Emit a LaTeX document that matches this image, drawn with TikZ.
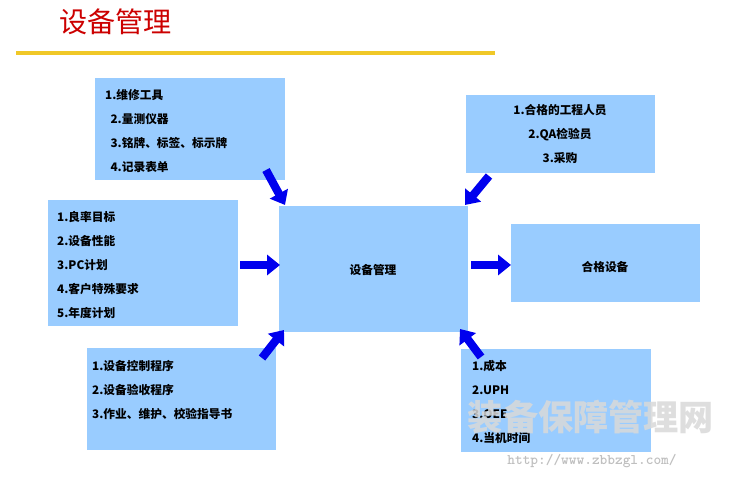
\documentclass[tikz,border=0pt]{standalone}
\usepackage{fontspec}
\setmainfont{Liberation Sans}
\newfontfamily\cjk{Noto Sans CJK SC}
\usetikzlibrary{arrows.meta}
\begin{document}
\begin{tikzpicture}[x=0.03cm,y=-0.03cm,
  txt/.style={font=\cjk\bfseries\fontsize{10}{20.3}\selectfont,align=left,anchor=west,inner sep=0pt},
  barrow/.style={draw=arrowblue,line width=7pt,-{Triangle[width=17pt,length=11pt]}}]
\definecolor{boxblue}{RGB}{153,204,255}
\definecolor{arrowblue}{RGB}{0,0,238}
\useasboundingbox (0,0) rectangle (743,482);
\fill[white] (0,0) rectangle (743,482);
\node[anchor=west,text=red!80!black,font=\cjk\fontsize{24}{28}\selectfont] (title) at (55,22) {设备管理};
\draw[draw={rgb,255:red,240;green,200;blue,40},line width=3pt] (16,53) -- (495,53);
% boxes
\fill[boxblue] (95,78) rectangle (285,180);
\fill[boxblue] (466,95) rectangle (655,173);
\fill[boxblue] (48,200) rectangle (238,326);
\fill[boxblue] (279,206) rectangle (468,332);
\fill[boxblue] (511,224) rectangle (700,302);
\fill[boxblue] (87,348) rectangle (276,450);
\fill[boxblue] (461,349) rectangle (651,452);
\node[txt] (ta) at (105,131) {1.维修工具\\\ \ 2.量测仪器\\\ \ 3.铭牌、标签、标示牌\\\ \ 4.记录表单};
\node[txt,align=center,anchor=center] (tb) at (560,134) {1.合格的工程人员\\2.QA检验员\\3.采购};
\node[txt] (tc) at (57,265) {1.良率目标\\2.设备性能\\3.PC计划\\4.客户特殊要求\\5.年度计划};
\node[txt,anchor=center] (center) at (373,270) {设备管理};
\node[txt,anchor=center] (out) at (605,267) {合格设备};
\node[txt] (td) at (92,390) {1.设备控制程序\\2.设备验收程序\\3.作业、维护、校验指导书};
\node[txt] (te) at (472,402) {1.成本\\2.UPH\\3.OEE\\4.当机时间};
% arrows
\coordinate (a1) at (266,170); \coordinate (a2) at (285,205);
\coordinate (b1) at (489,176); \coordinate (b2) at (465,205);
\coordinate (c1) at (240,265); \coordinate (c2) at (280,265);
\coordinate (d1) at (471,265); \coordinate (d2) at (511,265);
\coordinate (e1) at (262,358); \coordinate (e2) at (284,330);
\coordinate (f1) at (481,357); \coordinate (f2) at (460,329);
\draw[barrow] (a1) -- (a2);
\draw[barrow] (b1) -- (b2);
\draw[barrow] (c1) -- (c2);
\draw[barrow] (d1) -- (d2);
\draw[barrow] (e1) -- (e2);
\draw[barrow] (f1) -- (f2);
% watermark
\node[text=gray!30,font=\cjk\bfseries\fontsize{30}{34}\selectfont,opacity=0.85] (wm) at (591,417) {装备保障管理网};
\node[text=gray!50,font=\ttfamily\bfseries\fontsize{12.5}{14}\selectfont] (url) at (592,461) {http://www.zbbzgl.com/};
\end{tikzpicture}
\end{document}
